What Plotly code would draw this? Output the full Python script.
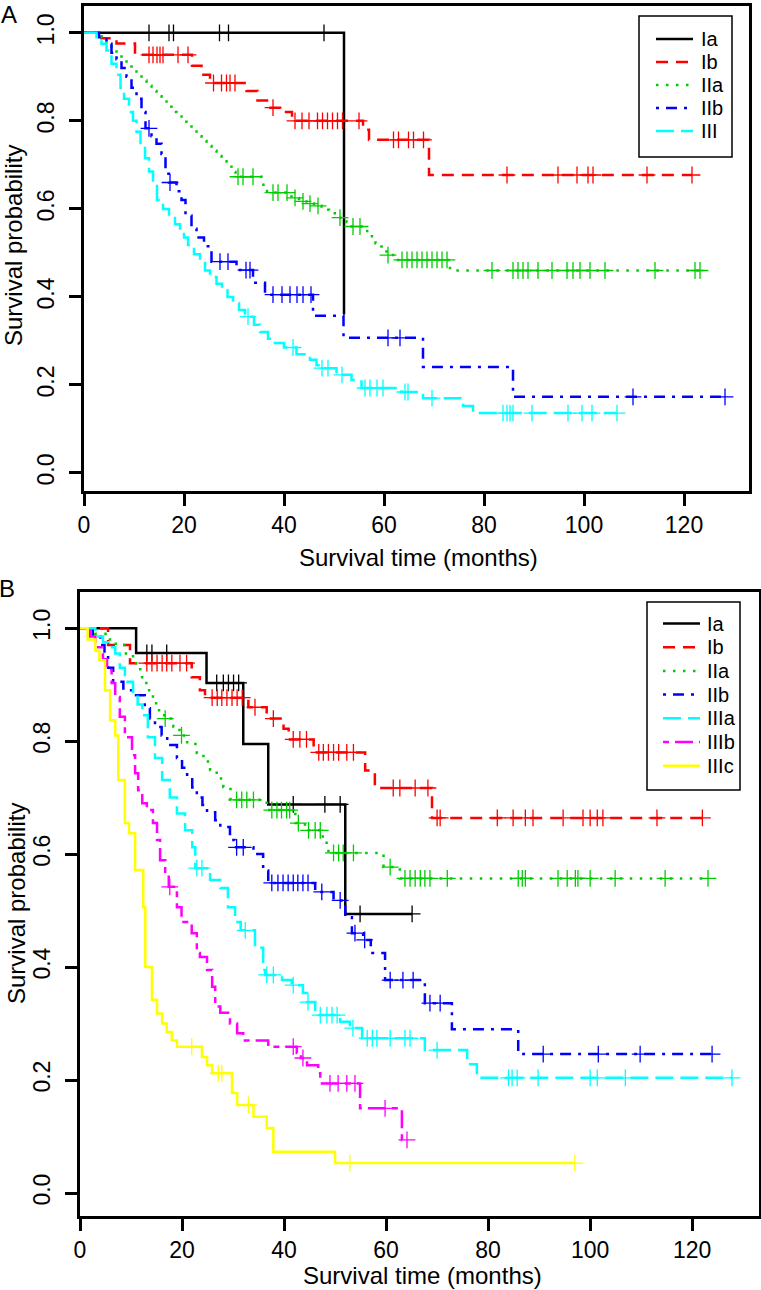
import numpy as np
import plotly.graph_objects as go

W, H = 761, 1290
FONT = "Liberation Sans, Arial, Helvetica, sans-serif"

# ---------------- Panel A data (time in months, survival probability) ----------------
A_groups = ["Ia", "Ib", "IIa", "IIb", "III"]

A_Ia_time = [0, 52]
A_Ia_surv = [1.0, 0.36]
A_Ia_cens = [13, 17, 17.9, 27.1, 28.9, 48]

A_Ib_time = [0, 3.5, 6.5, 10.2, 21.6, 23.5, 25.2, 32.5, 34.7, 36.6, 39.2, 41.6, 55.8, 57, 69]
A_Ib_surv = [1.0, 0.988, 0.976, 0.95, 0.925, 0.905, 0.886, 0.868, 0.846, 0.83, 0.82, 0.80, 0.78, 0.757, 0.677]
A_Ib_cens = [13, 13.8, 14.6, 15.2, 15.8, 18.8, 20.8, 25.9, 27.5, 28.5, 29.2, 30.2, 37.8, 42.2, 43.6,
             45, 46.7, 47.7, 48.7, 49.7, 50.7, 51.7, 55, 61.9, 62.9, 64.9, 65.9, 67.9, 84.6, 94.8,
             98.6, 100.8, 101.8, 112.6, 121.6]

A_IIa_time = [0, 2.5, 3.5, 4.5, 5.5, 6.5, 7.5, 8.5, 9.5, 10.5, 11.5, 12.5, 13.5, 14.5, 15.5, 16.5,
              17.5, 18.5, 19.5, 20.5, 21.5, 22.5, 23.5, 24.5, 25.5, 26.5, 27.5, 28.5, 29.5, 30.3,
              35.5, 36.6, 41.5, 43, 44.5, 46, 47.5, 49, 50.5, 52.5, 53.5, 55.5, 57, 58.3, 59.5,
              60.5, 62.8, 73.2]
A_IIa_surv = [1.0, 0.99, 0.98, 0.97, 0.962, 0.95, 0.94, 0.928, 0.917, 0.905, 0.892, 0.88, 0.868,
              0.856, 0.844, 0.832, 0.82, 0.81, 0.798, 0.787, 0.776, 0.765, 0.754, 0.743, 0.732,
              0.72, 0.708, 0.696, 0.684, 0.673, 0.655, 0.637, 0.625, 0.617, 0.612, 0.607, 0.598,
              0.59, 0.58, 0.57, 0.56, 0.55, 0.538, 0.522, 0.507, 0.495, 0.484, 0.46]
A_IIa_cens = [30.8, 31.8, 33.8, 37.8, 38.8, 40.6, 42.2, 43.8, 45.2, 46.8, 51.2, 53.8, 55.2, 60.8,
              63.6, 64.6, 65.6, 66.6, 67.6, 68.6, 69.6, 70.6, 71.6, 72.6, 81.6, 85.8, 86.8, 87.8,
              88.8, 90.8, 93.6, 96.6, 97.8, 99.2, 101.2, 104.2, 114.2, 122.2, 123.2]

A_IIb_time = [0, 3, 4.5, 5.5, 6.5, 7.5, 8.5, 9.5, 10.5, 11.5, 12.3, 13.5, 14.5, 15.5, 16.3, 17,
              18.5, 19.5, 20.3, 21.5, 22.5, 24, 25.5, 30.5, 33.8, 36.2, 45.8, 51.9, 67.8, 85.8]
A_IIb_surv = [1.0, 0.99, 0.975, 0.955, 0.94, 0.92, 0.90, 0.875, 0.85, 0.82, 0.783, 0.765, 0.748,
              0.725, 0.68, 0.66, 0.64, 0.62, 0.585, 0.555, 0.535, 0.515, 0.48, 0.461, 0.432,
              0.405, 0.357, 0.307, 0.241, 0.173]
A_IIb_cens = [13, 17.2, 27.2, 28.8, 32.4, 33.2, 37.8, 39.6, 41.2, 42.6, 43.8, 45.4, 60.8, 63.2,
              109.8, 128.2]

A_III_time = [0, 2.5, 3.5, 4.5, 5.5, 6.5, 7.3, 8, 9, 9.8, 10.5, 11.3, 12.2, 13, 13.8, 14.6, 15.8,
              17, 18.2, 19.2, 20, 20.8, 22, 23.2, 24.2, 25.2, 26.5, 27.6, 28.7, 29.8, 31, 32.2, 34,
              35.2, 36.8, 38.2, 40, 42.5, 45.2, 46.5, 47.3, 50.5, 53.5, 55.5, 63.5, 67.8, 75.8, 77.8]
A_III_surv = [1.0, 0.99, 0.975, 0.96, 0.93, 0.905, 0.875, 0.85, 0.82, 0.80, 0.775, 0.745, 0.715,
              0.685, 0.655, 0.62, 0.60, 0.582, 0.565, 0.55, 0.535, 0.518, 0.497, 0.477, 0.46,
              0.445, 0.43, 0.415, 0.40, 0.386, 0.37, 0.355, 0.337, 0.32, 0.305, 0.295, 0.285,
              0.27, 0.257, 0.245, 0.238, 0.223, 0.211, 0.193, 0.184, 0.17, 0.152, 0.136]
A_III_cens = [32.8, 41.8, 47.6, 48.8, 51.6, 56.2, 57.2, 58.6, 59.8, 64.2, 64.8, 69.6, 83.8, 84.6,
              85.2, 85.8, 89.6, 96.8, 99.6, 101.6, 106.6]

# ---------------- Panel B data ----------------
B_groups = ["Ia", "Ib", "IIa", "IIb", "IIIa", "IIIb", "IIIc"]

B_Ia_time = [0, 11, 24.8, 32, 36.9, 52]
B_Ia_surv = [1.0, 0.956, 0.903, 0.795, 0.688, 0.494]
B_Ia_cens = [13.1, 14.1, 17, 26.8, 28.1, 29.1, 30.1, 31.1, 41.8, 48, 51, 54.9, 65.1]

B_Ib_time = [0, 5.5, 9.8, 21.9, 23.5, 24.5, 33, 36.6, 39.9, 40.9, 45.8, 55.9, 57.8, 69]
B_Ib_surv = [1.0, 0.97, 0.938, 0.913, 0.89, 0.877, 0.86, 0.84, 0.822, 0.803, 0.78, 0.748, 0.717, 0.664]
B_Ib_cens = [13.1, 14.1, 15.1, 16.1, 17, 18, 19.6, 20.9, 25.9, 26.9, 27.8, 28.8, 29.8, 30.8, 31.8,
             34.3, 37.9, 41.8, 43.1, 44.4, 46.8, 47.7, 48.7, 49.7, 50.7, 52.3, 53.6, 61.4, 62.7,
             65.7, 68.2, 70, 70.6, 81.8, 84.9, 87.3, 88.8, 94.7, 98.6, 100, 101.4, 102.5, 113.1, 122]

B_IIa_time = [0, 3, 5, 7, 9, 10.4, 11.8, 13, 14.3, 15.5, 16.5, 18.3, 19.5, 21, 22.9, 24.2, 25.5,
              26.8, 28.1, 29.5, 36.6, 42.2, 44.1, 47.6, 48.7, 59.5, 62.7]
B_IIa_surv = [1.0, 0.99, 0.98, 0.97, 0.955, 0.938, 0.913, 0.89, 0.867, 0.852, 0.84, 0.826, 0.81,
              0.795, 0.779, 0.764, 0.749, 0.734, 0.719, 0.696, 0.678, 0.655, 0.642, 0.62, 0.602,
              0.577, 0.557]
B_IIa_cens = [16.7, 19.9, 30.7, 31.7, 32.7, 34, 37.6, 38.6, 39.5, 40.5, 41.1, 42.8, 44.8, 46.1,
              47.1, 49.7, 50.7, 51.6, 53.6, 60.8, 63.7, 64.7, 65.7, 66.7, 67.6, 68.6, 72, 85.9,
              86.7, 87.3, 93.7, 95.5, 97.1, 97.6, 100, 104.9, 114.7, 123.1]

B_IIb_time = [0, 2.5, 4, 4.8, 5.5, 6.5, 8.5, 10.4, 12.7, 13.7, 14.7, 16, 17.1, 19, 20, 21, 22,
              22.9, 24, 24.9, 26.5, 27.5, 29.4, 30.3, 34, 35.9, 36.9, 46.1, 49.7, 52, 53.3, 55.5,
              57, 59.8, 67.6, 72.9, 85.9]
B_IIb_surv = [1.0, 0.985, 0.97, 0.955, 0.93, 0.905, 0.89, 0.881, 0.858, 0.84, 0.825, 0.81, 0.793,
              0.77, 0.753, 0.736, 0.718, 0.70, 0.687, 0.674, 0.66, 0.648, 0.625, 0.612, 0.60,
              0.571, 0.549, 0.533, 0.518, 0.488, 0.46, 0.448, 0.425, 0.377, 0.336, 0.29, 0.246]
B_IIb_cens = [30.7, 32, 37.6, 38.8, 39.8, 40.8, 41.8, 42.7, 43.7, 44.7, 47.4, 51, 53.9, 55.8,
              60.8, 63.3, 65.3, 68.6, 70.6, 90.8, 101.6, 109.8, 123.9]

B_IIIa_time = [0, 3, 4.5, 5.5, 6.9, 7.8, 8.8, 10.4, 11.3, 12.2, 13.3, 14.7, 16.1, 17.6, 19, 20.6,
               22, 22.6, 25.5, 27.5, 29, 30.4, 31.5, 34.3, 35.9, 36.3, 39.6, 41.5, 43.7, 44.5,
               46.1, 46.8, 51, 52.9, 55.3, 67.6, 75.9, 77.8]
B_IIIa_surv = [1.0, 0.985, 0.975, 0.966, 0.955, 0.93, 0.905, 0.881, 0.865, 0.846, 0.807, 0.77,
               0.731, 0.70, 0.672, 0.642, 0.612, 0.575, 0.554, 0.54, 0.506, 0.48, 0.465, 0.434,
               0.395, 0.386, 0.377, 0.368, 0.354, 0.338, 0.32, 0.315, 0.303, 0.292, 0.274,
               0.253, 0.228, 0.204]
B_IIIa_cens = [22.9, 23.9, 32.4, 36.6, 37.9, 41.8, 44.7, 47.1, 48.4, 49.4, 50.4, 53.5, 56.3, 57.3,
               58.2, 60.8, 63.7, 64.7, 70, 84, 84.7, 85.7, 89.8, 100, 101.4, 106.9, 127.8]

B_IIIb_time = [0, 2, 3, 4.5, 5.3, 6.2, 6.9, 7.8, 8.8, 10.2, 10.8, 11.4, 12.2, 13.1, 14.3, 15.1,
               15.7, 16.7, 17.4, 19, 19.9, 21.9, 22.9, 23.5, 24.9, 25.9, 26.5, 27.5, 29.4, 30.8,
               32, 36.9, 42.5, 43.3, 44.5, 46.7, 47.1, 54.9, 63.1]
B_IIIb_surv = [1.0, 0.985, 0.966, 0.945, 0.926, 0.903, 0.878, 0.843, 0.807, 0.775, 0.743, 0.713,
               0.69, 0.678, 0.655, 0.625, 0.589, 0.566, 0.542, 0.506, 0.48, 0.46, 0.425, 0.418,
               0.395, 0.365, 0.33, 0.319, 0.30, 0.283, 0.27, 0.259, 0.248, 0.239, 0.226, 0.212,
               0.194, 0.15, 0.094]
B_IIIb_cens = [17.6, 41.8, 43.7, 49, 50.6, 52.3, 53.9, 59.8, 64.1]

B_IIIc_time = [0, 1.5, 3, 3.8, 4.9, 5.9, 6.9, 7.5, 8.8, 9.6, 10.8, 12.4, 12.8, 14.1, 15.1, 16.1,
               17, 18, 19, 23.9, 24.9, 25.9, 29.8, 30.8, 34, 36.6, 37.9, 50]
B_IIIc_surv = [1.0, 0.98, 0.96, 0.943, 0.89, 0.837, 0.81, 0.731, 0.655, 0.637, 0.572, 0.506, 0.40,
               0.342, 0.318, 0.30, 0.285, 0.27, 0.259, 0.241, 0.226, 0.212, 0.177, 0.156, 0.135,
               0.115, 0.073, 0.053]
B_IIIc_cens = [21.9, 27.1, 27.8, 33, 52.9, 97]

x_ticks = [0, 20, 40, 60, 80, 100, 120]
y_ticks = [0.0, 0.2, 0.4, 0.6, 0.8, 1.0]
y_ticklabels = ["0.0", "0.2", "0.4", "0.6", "0.8", "1.0"]

# ---------------- styles ----------------
COLORS = {"Ia": "#000000", "Ib": "#FF0000", "IIa": "#00CD00", "IIb": "#0000FF",
          "III": "#00FFFF", "IIIa": "#00FFFF", "IIIb": "#FF00FF", "IIIc": "#FFFF00"}
DASHES = {"Ia": "solid", "Ib": "12px,8px", "IIa": "2.5px,7.5px", "IIb": "3px,7px,11px,7px",
          "III": "18px,7px", "IIIa": "18px,7px", "IIIb": "6px,6px,18px,6px", "IIIc": "solid"}
LW = 2.5

A_data = {"Ia": (A_Ia_time, A_Ia_surv, A_Ia_cens), "Ib": (A_Ib_time, A_Ib_surv, A_Ib_cens),
          "IIa": (A_IIa_time, A_IIa_surv, A_IIa_cens), "IIb": (A_IIb_time, A_IIb_surv, A_IIb_cens),
          "III": (A_III_time, A_III_surv, A_III_cens)}
B_data = {"Ia": (B_Ia_time, B_Ia_surv, B_Ia_cens), "Ib": (B_Ib_time, B_Ib_surv, B_Ib_cens),
          "IIa": (B_IIa_time, B_IIa_surv, B_IIa_cens), "IIb": (B_IIb_time, B_IIb_surv, B_IIb_cens),
          "IIIa": (B_IIIa_time, B_IIIa_surv, B_IIIa_cens),
          "IIIb": (B_IIIb_time, B_IIIb_surv, B_IIIb_cens),
          "IIIc": (B_IIIc_time, B_IIIc_surv, B_IIIc_cens)}

fig = go.Figure()


def add_km(name, times, surv, cens, xa, ya):
    c = COLORS[name]
    n = min(len(times), len(surv))
    t = list(times[:n])
    s = list(surv[:n])
    t_end = max([t[-1]] + list(cens))
    xs = t + [t_end]
    ys = s + [s[-1]]
    fig.add_trace(go.Scatter(x=xs, y=ys, mode="lines", line=dict(color=c, width=LW, dash=DASHES[name], shape="hv"),
                             xaxis=xa, yaxis=ya, showlegend=False, hoverinfo="skip"))
    ta = np.array(t)
    idx = np.searchsorted(ta, np.array(cens), side="right") - 1
    cy = [s[i] for i in idx]
    fig.add_trace(go.Scatter(x=list(cens), y=cy, mode="markers",
                             marker=dict(symbol="cross-thin", size=12, color=c, line=dict(color=c, width=1.3)),
                             xaxis=xa, yaxis=ya, showlegend=False, hoverinfo="skip"))


for g in A_groups:
    add_km(g, *A_data[g], "x", "y")
for g in B_groups:
    add_km(g, *B_data[g], "x2", "y2")


# convert reference-image pixel coordinates to paper fractions
def px(x):
    return x / W


def py(y):
    return 1 - y / H


axis_common = dict(ticks="outside", ticklen=12, tickwidth=2.5, tickcolor="black", showline=True,
                   linewidth=2.5, linecolor="black", mirror=True, showgrid=False, zeroline=False,
                   automargin=False, tickfont=dict(size=23, family=FONT, color="black"))

fig.update_layout(
    width=W, height=H, margin=dict(l=0, r=0, t=0, b=0, autoexpand=False),
    paper_bgcolor="white", plot_bgcolor="white", showlegend=False,
    xaxis=dict(domain=[px(84), px(749)], range=[0, 133], tickvals=x_ticks, anchor="y",
               ticklabelstandoff=0, **axis_common),
    yaxis=dict(domain=[py(491), py(6)], range=[-0.041, 1.061], tickvals=y_ticks, ticktext=y_ticklabels,
               tickangle=-90, anchor="x", ticklabelstandoff=6, **axis_common),
    xaxis2=dict(domain=[px(80), px(759)], range=[0, 133.1], tickvals=x_ticks, anchor="y2",
                ticklabelstandoff=0, **axis_common),
    yaxis2=dict(domain=[py(1216), py(592)], range=[-0.0407, 1.064], tickvals=y_ticks, ticktext=y_ticklabels,
                tickangle=-90, anchor="x2", ticklabelstandoff=6, **axis_common),
)

ann = []
shapes = []


def text(x, y, s, size=24, angle=0, xanchor="center"):
    ann.append(dict(x=px(x), y=py(y), xref="paper", yref="paper", text=s, showarrow=False,
                    textangle=angle, xanchor=xanchor, yanchor="middle",
                    font=dict(size=size, family=FONT, color="black")))


text(9, 14, "A", size=24)
text(7, 588, "B", size=24)
text(418, 557, "Survival time (months)")
text(422, 1275, "Survival time (months)")
text(14, 246, "Survival probability", angle=-90)
text(16, 904, "Survival probability", angle=-90)


def legend(groups, box, y0, step, lx0, lx1, tx):
    shapes.append(dict(type="rect", xref="paper", yref="paper", x0=px(box[0]), x1=px(box[2]),
                       y0=py(box[3]), y1=py(box[1]), line=dict(color="black", width=1.5),
                       fillcolor="white"))
    for i, g in enumerate(groups):
        yy = y0 + step * i
        shapes.append(dict(type="line", xref="paper", yref="paper", x0=px(lx0), x1=px(lx1),
                           y0=py(yy), y1=py(yy), line=dict(color=COLORS[g], width=LW, dash=DASHES[g])))
        text(tx, yy, g, size=20, xanchor="left")


legend(A_groups, (639, 16, 732, 157), 39, 23, 656, 693, 699)
legend(B_groups, (647, 602, 740, 790), 623.5, 23.7, 663, 700, 705)

fig.update_layout(annotations=ann, shapes=shapes)
fig.write_html("out.html", config={"displayModeBar": False},
               post_script="document.body.style.margin='0px';")
